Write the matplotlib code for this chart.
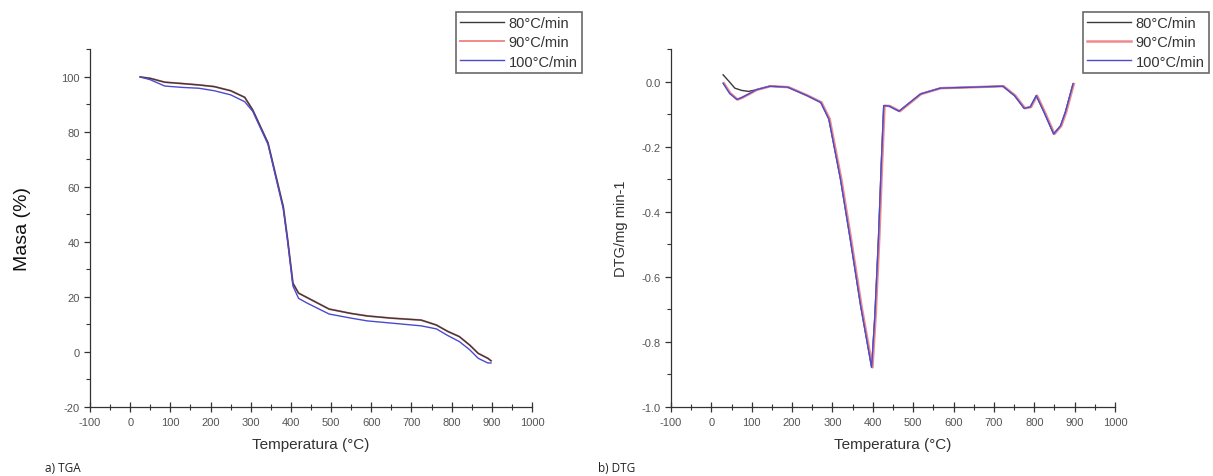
import numpy as np
import matplotlib
matplotlib.use("Agg")
import matplotlib.pyplot as plt
from matplotlib.ticker import MultipleLocator

plt.rcParams['font.family'] = ['Liberation Sans', 'DejaVu Sans']
plt.rcParams['axes.unicode_minus'] = False

labels = ['80°C/min', '90°C/min', '100°C/min']
colors = ['#3a3a3a', '#f08a8a', '#4a4ad0']

# TGA curves (temperature in C, mass in %)
tga_t_hi = [25, 50, 86, 130, 171, 209, 250, 285, 305, 343, 381, 392, 405, 419, 440,
            495, 550, 590, 650, 724, 762, 790, 819, 845, 866, 890, 898]
tga_hi = [100, 99.5, 98.1, 97.6, 97.1, 96.5, 95.0, 92.6, 88.0, 76.0, 52.8, 40.7, 25.0,
          21.4, 19.8, 15.6, 14.0, 13.1, 12.3, 11.6, 9.8, 7.5, 5.6, 2.5, -0.5, -2.3, -3.2]
tga_t_lo = [25, 50, 86, 130, 171, 209, 250, 285, 305, 343, 381, 392, 405, 419, 440,
            495, 550, 590, 650, 724, 762, 790, 819, 845, 866, 890, 898]
tga_lo = [100, 99.0, 96.7, 96.2, 95.9, 95.0, 93.5, 91.0, 87.5, 75.5, 52.0, 40.0, 24.0,
          19.5, 17.8, 13.8, 12.3, 11.3, 10.5, 9.5, 8.4, 6.0, 3.8, 0.8, -2.3, -4.0, -4.0]

# DTG curves (temperature in C, DTG in mg/min)
dtg_t_hi = [29, 45, 58, 75, 92, 111, 145, 189, 237, 271, 291, 320, 344, 370, 397, 405,
            414, 421, 427, 440, 465, 490, 518, 567, 650, 722, 751, 775, 790, 805, 825,
            848, 865, 877, 896]
dtg_hi = [0.022, 0.0, -0.019, -0.026, -0.029, -0.024, -0.013, -0.016, -0.042, -0.063,
          -0.114, -0.30, -0.483, -0.69, -0.878, -0.72, -0.48, -0.25, -0.073, -0.074,
          -0.09, -0.065, -0.037, -0.019, -0.016, -0.013, -0.042, -0.081, -0.077, -0.042,
          -0.095, -0.16, -0.135, -0.093, -0.006]
dtg_t_lo = [29, 45, 63, 75, 92, 111, 145, 189, 237, 271, 291, 320, 344, 370, 397, 405,
            414, 421, 427, 440, 465, 490, 518, 567, 650, 722, 751, 775, 790, 805, 825,
            848, 865, 877, 896]
dtg_lo = [-0.004, -0.035, -0.054, -0.048, -0.037, -0.024, -0.013, -0.016, -0.042, -0.063,
          -0.114, -0.30, -0.483, -0.69, -0.878, -0.72, -0.48, -0.25, -0.073, -0.074,
          -0.09, -0.065, -0.037, -0.019, -0.016, -0.013, -0.042, -0.081, -0.077, -0.042,
          -0.095, -0.16, -0.135, -0.093, -0.006]

fig = plt.figure(figsize=(12.13, 4.77), dpi=100)
ax1 = fig.add_axes([0.0742, 0.1447, 0.3644, 0.7495])
ax2 = fig.add_axes([0.5532, 0.1447, 0.3660, 0.7495])


def style(ax):
    for s in ['top', 'right']:
        ax.spines[s].set_visible(False)
    for s in ['left', 'bottom']:
        ax.spines[s].set_color('#333333')
        ax.spines[s].set_linewidth(0.9)
    ax.set_xlim(-100, 1000)
    ax.xaxis.set_major_locator(MultipleLocator(100))
    ax.xaxis.set_minor_locator(MultipleLocator(50))
    ax.tick_params(axis='x', which='major', direction='inout', length=7, width=0.9,
                   colors='#333333', labelcolor='#555555', labelsize=8, pad=4)
    ax.tick_params(axis='x', which='minor', direction='inout', length=4, width=0.8,
                   colors='#333333')
    ax.tick_params(axis='y', which='major', direction='out', length=4, width=0.9,
                   colors='#333333', labelcolor='#555555', labelsize=8)
    ax.tick_params(axis='y', which='minor', direction='out', length=3, width=0.8,
                   colors='#333333')
    ax.set_xlabel('Temperatura (°C)', fontsize=11, color='#333333', labelpad=7)


# TGA
ax1.plot(tga_t_hi, tga_hi, color=colors[1], lw=1.4, label=labels[1], zorder=2)
ax1.plot(tga_t_hi, tga_hi, color=colors[0], lw=1.0, label=labels[0], zorder=3)
ax1.plot(tga_t_lo, tga_lo, color=colors[2], lw=1.0, label=labels[2], zorder=3)
style(ax1)
ax1.set_ylim(-20, 110)
ax1.set_yticks([-20, 0, 20, 40, 60, 80, 100])
ax1.yaxis.set_minor_locator(MultipleLocator(10))
ax1.set_ylabel('Masa (%)', fontsize=14, color='#111111', labelpad=22)

# DTG
ax2.plot(dtg_t_hi, dtg_hi, color=colors[0], lw=1.0, label=labels[0])
ax2.plot(np.array(dtg_t_lo) + 2, dtg_lo, color=colors[1], lw=1.8, label=labels[1])
ax2.plot(dtg_t_lo, dtg_lo, color=colors[2], lw=1.0, label=labels[2])
style(ax2)
ax2.set_ylim(-1.0, 0.1)
ax2.set_yticks([-1.0, -0.8, -0.6, -0.4, -0.2, 0.0])
ax2.yaxis.set_minor_locator(MultipleLocator(0.1))
ax2.set_ylabel('DTG/mg min-1', fontsize=10.5, color='#333333', labelpad=10)

order = [labels.index(l) for l in labels]
leg_kw = dict(loc='upper left', fontsize=10.5, frameon=True, fancybox=False,
              edgecolor='#444444', handlelength=3.0, handletextpad=0.3,
              labelspacing=0.35, borderpad=0.3, borderaxespad=0)
for ax, x0 in ((ax1, 456), (ax2, 1083)):
    hs, ls = ax.get_legend_handles_labels()
    hmap = dict(zip(ls, hs))
    lg = ax.legend([hmap[l] for l in labels], labels,
                   bbox_to_anchor=(x0 / 1213, 1 - 13 / 477),
                   bbox_transform=fig.transFigure, **leg_kw)
    lg.get_frame().set_linewidth(1.2)
    for t in lg.get_texts():
        t.set_color('#333333')

fig.text(45 / 1213, 1 - 469 / 477, 'a) TGA', fontsize=8.5, color='#222222',
         family=['Open Sans', 'DejaVu Sans'], va='center')
fig.text(598 / 1213, 1 - 469 / 477, 'b) DTG', fontsize=8.5, color='#222222',
         family=['Open Sans', 'DejaVu Sans'], va='center')

fig.savefig('out.png', dpi=100, facecolor='white')
